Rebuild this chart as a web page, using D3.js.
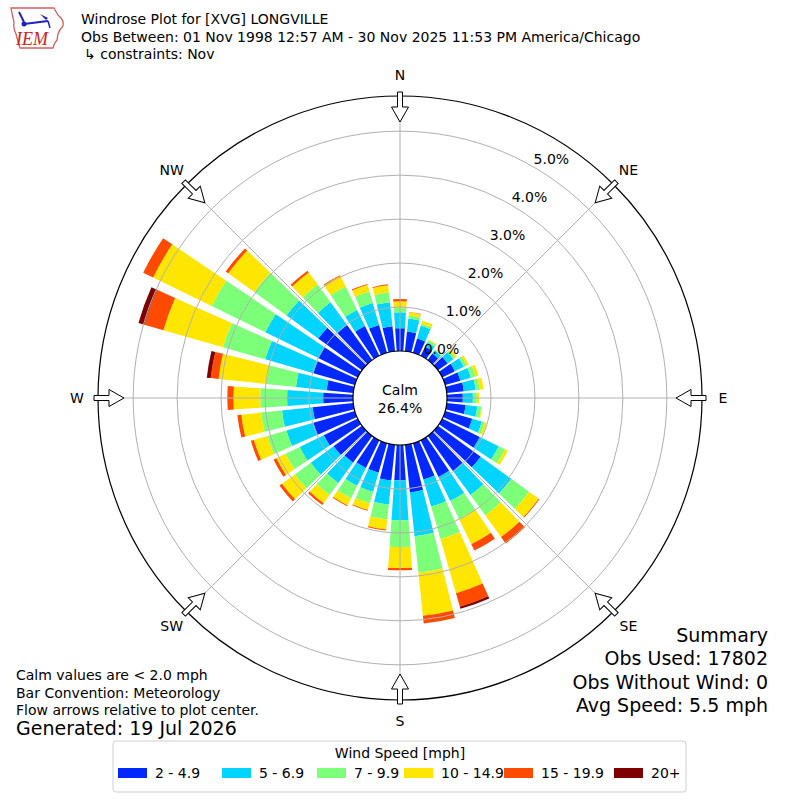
<!DOCTYPE html>
<html>
<head>
<meta charset="utf-8">
<script src="https://cdn.jsdelivr.net/npm/d3@7"></script>
<style>
body { margin: 0; background: #fff; }
text { font-family: "DejaVu Sans", sans-serif; fill: #000; }
</style>
</head>
<body>
<svg width="800" height="800"></svg>
<script>
// direction bins (degrees, where the wind blows from)
var directions = [0,10,20,30,40,50,60,70,80,90,100,110,120,130,140,150,160,170,
                  180,190,200,210,220,230,240,250,260,270,280,290,300,310,320,330,340,350]

// frequency (%) per direction for every speed class
var spd2to5   = [0.52,0.45,0.34,0.23,0.18,0.27,0.32,0.36,0.39,0.36,0.43,0.64,0.95,1.20,0.98,0.93,0.86,1.09,
                 0.80,0.82,0.70,0.70,0.75,0.80,0.86,0.98,0.93,0.68,0.61,0.98,1.00,1.23,0.98,0.75,0.66,0.57]
var spd5to7   = [0.36,0.30,0.30,0.11,0.09,0.16,0.23,0.25,0.27,0.23,0.27,0.23,0.48,0.86,0.68,0.61,0.64,1.00,
                 0.91,0.55,0.45,0.45,0.57,0.64,0.61,0.64,0.70,0.82,0.70,1.14,1.34,0.89,0.64,0.41,0.52,0.55]
var spd7to10  = [0.11,0.07,0.05,0.05,0.02,0.05,0.07,0.11,0.09,0.09,0.09,0.07,0.16,0.50,0.57,0.45,0.77,0.84,
                 0.61,0.34,0.27,0.32,0.34,0.45,0.36,0.45,0.48,0.61,0.68,1.00,1.36,0.91,0.50,0.59,0.27,0.23]
var spd10to15 = [0.14,0.07,0.07,0.02,0.02,0.05,0.05,0.07,0.09,0.05,0.02,0.05,0.07,0.27,0.61,0.64,1.28,0.98,
                 0.48,0.23,0.16,0.18,0.23,0.36,0.23,0.32,0.45,0.61,1.09,1.41,1.48,0.73,0.34,0.27,0.16,0.16]
var spd15to20 = [0.05,0.01,0,0,0,0,0,0,0,0,0,0,0,0.02,0.18,0.16,0.32,0.18,
                 0.05,0.02,0.02,0.02,0.05,0.07,0.07,0.07,0.09,0.14,0.18,0.45,0.25,0.07,0.05,0.02,0.02,0.02]
var spd20plus = [0,0,0,0,0,0,0,0,0,0,0,0,0,0,0,0,0.05,0,
                 0,0,0,0,0,0,0,0,0,0,0.09,0.14,0,0,0,0,0,0]

var speedLabels = ["2 - 4.9", "5 - 6.9", "7 - 9.9", "10 - 14.9", "15 - 19.9", "20+"]
var radialTicks = [0, 1, 2, 3, 4, 5]
var compassLabels = ["N", "NE", "E", "SE", "S", "SW", "W", "NW"]
var compassAngles = [0, 45, 90, 135, 180, 225, 270, 315]
var calmPercent = 26.4
var summaryLines = ["Summary", "Obs Used: 17802", "Obs Without Wind: 0", "Avg Speed: 5.5 mph"]
var noteLines = ["Calm values are < 2.0 mph", "Bar Convention: Meteorology", "Flow arrows relative to plot center."]

var colors = ["#0028ff", "#00d4ff", "#7cff79", "#ffe600", "#ff4a00", "#7f0000"]
var keys = ["s0", "s1", "s2", "s3", "s4", "s5"]
var series = [spd2to5, spd5to7, spd7to10, spd10to15, spd15to20, spd20plus]

var center = {x: 400, y: 398}
var calmRadius = 47
var outerRadius = 302

var svg = d3.select("svg")

var rScale = d3.scaleLinear().domain([0, 5.8]).range([calmRadius, outerRadius])
var aScale = d3.scaleLinear().domain([0, 360]).range([0, 2 * Math.PI])
var halfWidth = aScale(10) * 0.8 / 2

var rows = directions.map((d, i) => {
  var row = {dir: d}
  keys.forEach((k, j) => row[k] = series[j][i])
  return row
})
var stacked = d3.stack().keys(keys)(rows)

var rose = svg.append("g")
    .attr("transform", `translate(${center.x},${center.y})`)

var arc = d3.arc()
    .innerRadius(d => rScale(d[0]))
    .outerRadius(d => rScale(d[1]))
    .startAngle(d => aScale(d.data.dir) - halfWidth)
    .endAngle(d => aScale(d.data.dir) + halfWidth)

rose.selectAll(".layer")
  .data(stacked)
  .enter().append("g")
  .attr("class", "layer")
  .attr("fill", (d, i) => colors[i])
  .selectAll("path")
  .data(d => d.filter(v => v[1] - v[0] > 0))
  .enter().append("path")
  .attr("d", arc)

// grid rings and spokes on top of the bars
rose.selectAll(".ring")
  .data(radialTicks.slice(1))
  .enter().append("circle")
  .attr("class", "ring")
  .attr("r", d => rScale(d))
  .attr("fill", "none")
  .attr("stroke", "#b0b0b0")
  .attr("stroke-width", 1)

rose.selectAll(".spoke")
  .data(compassAngles)
  .enter().append("line")
  .attr("class", "spoke")
  .attr("x1", d => calmRadius * Math.sin(aScale(d)))
  .attr("y1", d => -calmRadius * Math.cos(aScale(d)))
  .attr("x2", d => outerRadius * Math.sin(aScale(d)))
  .attr("y2", d => -outerRadius * Math.cos(aScale(d)))
  .attr("stroke", "#b0b0b0")
  .attr("stroke-width", 1)

rose.append("circle")
  .attr("r", outerRadius)
  .attr("fill", "none")
  .attr("stroke", "#000")
  .attr("stroke-width", 1.2)

rose.append("circle")
  .attr("r", calmRadius)
  .attr("fill", "#fff")
  .attr("stroke", "#000")
  .attr("stroke-width", 1.2)

rose.append("text")
  .attr("y", -3)
  .attr("text-anchor", "middle")
  .style("font-size", "14px")
  .text("Calm")
rose.append("text")
  .attr("y", 15)
  .attr("text-anchor", "middle")
  .style("font-size", "14px")
  .text(calmPercent.toFixed(1) + "%")

// flow arrows pointing at the center
var arrowPts = [[-2.5,-306],[2.5,-306],[2.5,-291],[8.5,-291],[0,-276],[-8.5,-291],[-2.5,-291]]
rose.selectAll(".arrow")
  .data(compassAngles)
  .enter().append("polygon")
  .attr("class", "arrow")
  .attr("points", arrowPts.map(p => p.join(",")).join(" "))
  .attr("transform", d => `rotate(${d})`)
  .attr("fill", "#fff")
  .attr("stroke", "#000")
  .attr("stroke-width", 1)

rose.selectAll(".compass")
  .data(compassAngles)
  .enter().append("text")
  .attr("class", "compass")
  .attr("x", d => 323 * Math.sin(aScale(d)))
  .attr("y", d => -323 * Math.cos(aScale(d)) + 5)
  .attr("text-anchor", "middle")
  .style("font-size", "14px")
  .text((d, i) => compassLabels[i])

rose.selectAll(".rlabel")
  .data(radialTicks)
  .enter().append("text")
  .attr("class", "rlabel")
  .attr("x", d => rScale(d) * Math.sin(aScale(30)) + 18)
  .attr("y", d => -rScale(d) * Math.cos(aScale(30)) - 8 + 5)
  .attr("text-anchor", "middle")
  .style("font-size", "14px")
  .text(d => d.toFixed(1) + "%")

// header
svg.append("text").attr("x", 81).attr("y", 24).style("font-size", "14px")
   .text("Windrose Plot for [XVG] LONGVILLE")
svg.append("text").attr("x", 81).attr("y", 42).style("font-size", "14px")
   .text("Obs Between: 01 Nov 1998 12:57 AM - 30 Nov 2025 11:53 PM America/Chicago")
svg.append("text").attr("x", 84).attr("y", 59).style("font-size", "14px")
   .text("\u21B3 constraints: Nov")

// IEM logo
var logo = svg.append("g")
logo.append("path")
  .attr("d", "M11,8 L54,8 Q56,12 58,15 L61,18 Q64,22 63,26 Q59,30 58,34 L57,40 Q54,43 53,48 L20,48 Q18,42 16,34 Q13,28 14,22 Q12,14 11,8 Z")
  .attr("fill", "none")
  .attr("stroke", "#d06060")
  .attr("stroke-width", 1.3)
logo.append("line").attr("x1", 24).attr("y1", 24).attr("x2", 48).attr("y2", 21)
  .attr("stroke", "#2020c0").attr("stroke-width", 2)
logo.append("line").attr("x1", 19).attr("y1", 12).attr("x2", 24).attr("y2", 22)
  .attr("stroke", "#2020c0").attr("stroke-width", 2)
logo.append("path").attr("d", "M40,14 L48,18 L46,20 Z").attr("fill", "#2020c0")
logo.append("circle").attr("cx", 24).attr("cy", 24).attr("r", 2.5).attr("fill", "#2020c0")
logo.append("line").attr("x1", 48).attr("y1", 21).attr("x2", 50).attr("y2", 28)
  .attr("stroke", "#2020c0").attr("stroke-width", 1.5)
logo.append("text")
  .attr("x", 16).attr("y", 45)
  .style("font-family", "'Liberation Serif', serif")
  .style("font-style", "italic")
  .style("font-size", "18px")
  .style("fill", "#d02020")
  .text("IEM")

// footnotes
svg.selectAll(".note")
  .data(noteLines)
  .enter().append("text")
  .attr("class", "note")
  .attr("x", 16)
  .attr("y", (d, i) => 680 + i * 17.5)
  .style("font-size", "14px")
  .text(d => d)
svg.append("text").attr("x", 16).attr("y", 735).style("font-size", "19px")
   .text("Generated: 19 Jul 2026")

svg.selectAll(".summary")
  .data(summaryLines)
  .enter().append("text")
  .attr("class", "summary")
  .attr("x", 768)
  .attr("y", (d, i) => 642 + i * 23.3)
  .attr("text-anchor", "end")
  .style("font-size", "19px")
  .text(d => d)

// legend
var legend = svg.append("g")
legend.append("rect")
  .attr("x", 113).attr("y", 741).attr("width", 573).attr("height", 51)
  .attr("rx", 3)
  .attr("fill", "#fff")
  .attr("stroke", "#d0d0d0")
legend.append("text").attr("x", 400).attr("y", 758)
  .attr("text-anchor", "middle").style("font-size", "14px")
  .text("Wind Speed [mph]")
var legendX = [118, 222, 317, 404, 504, 614]
var item = legend.selectAll(".item")
  .data(speedLabels)
  .enter().append("g")
  .attr("class", "item")
  .attr("transform", (d, i) => `translate(${legendX[i]},768)`)
item.append("rect").attr("width", 29).attr("height", 10).attr("fill", (d, i) => colors[i])
item.append("text").attr("x", 37).attr("y", 10).style("font-size", "14px").text(d => d)
</script>
</body>
</html>
